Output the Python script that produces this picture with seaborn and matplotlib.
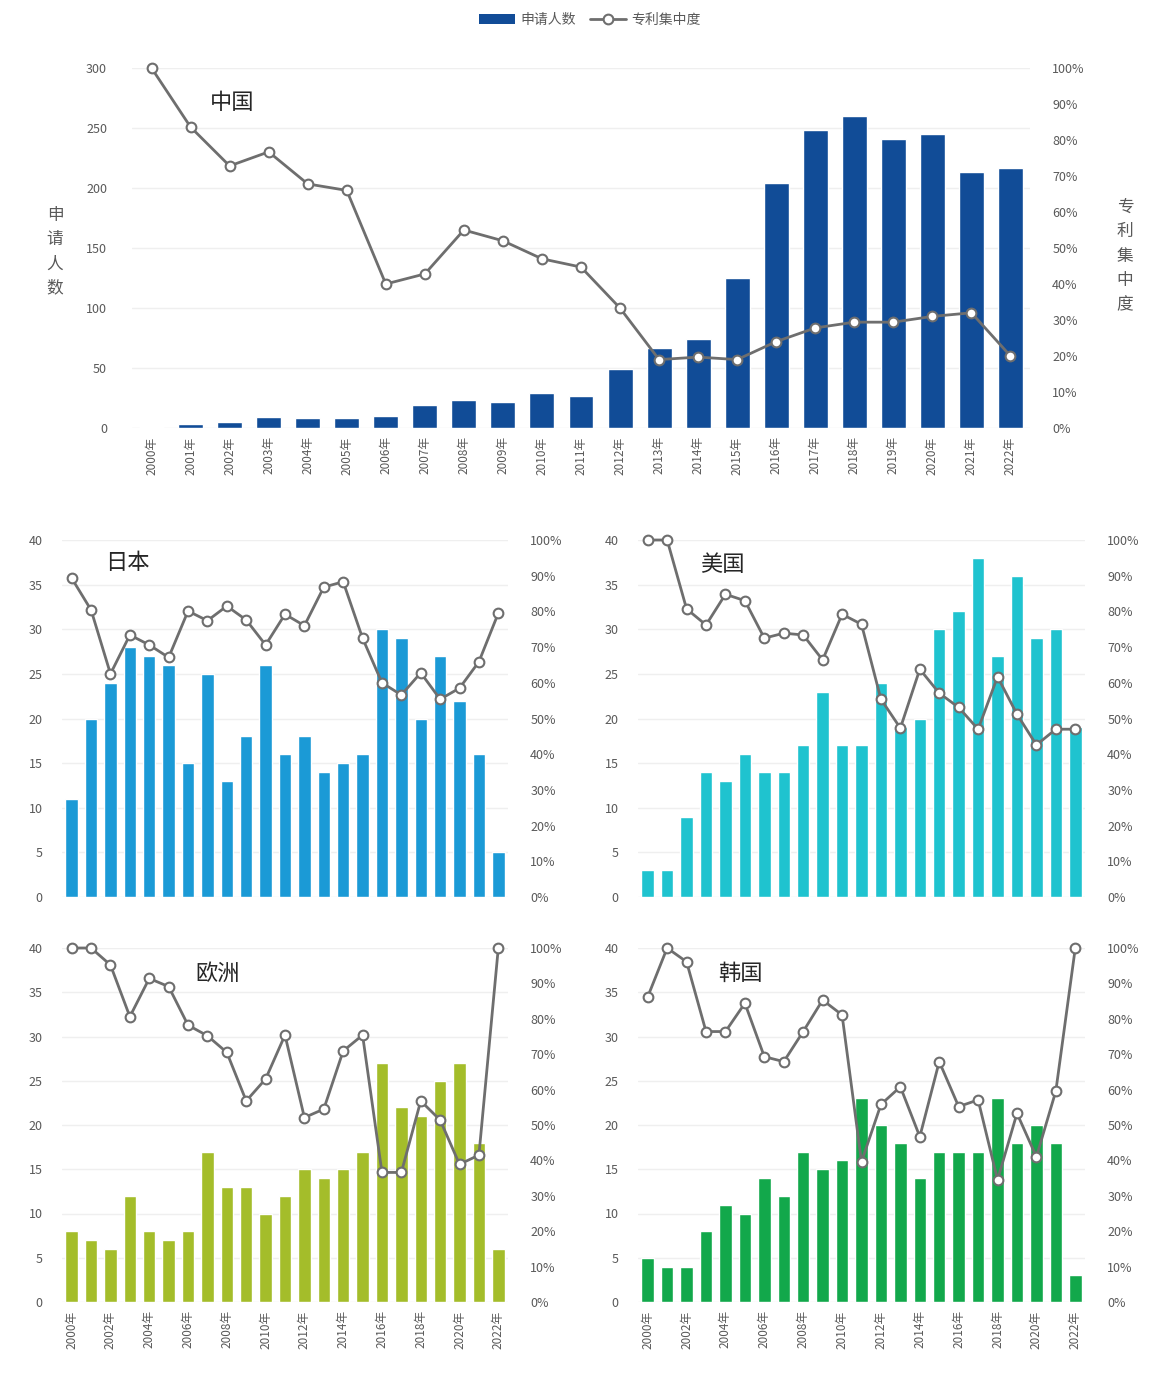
import numpy as np
import pandas as pd
import matplotlib
matplotlib.use("Agg")
import matplotlib.pyplot as plt
import seaborn as sns
from matplotlib.patches import Patch
from matplotlib.lines import Line2D
from matplotlib.ticker import PercentFormatter, MultipleLocator

years = ["2000年", "2001年", "2002年", "2003年", "2004年", "2005年", "2006年", "2007年",
         "2008年", "2009年", "2010年", "2011年", "2012年", "2013年", "2014年", "2015年",
         "2016年", "2017年", "2018年", "2019年", "2020年", "2021年", "2022年"]

cn_count = [1, 3, 5, 9, 8, 8, 10, 19, 23, 22, 29, 27, 49, 67, 74, 125, 204, 248, 260, 241, 245, 213, 217]
cn_conc = [100, 83.6, 72.8, 76.7, 67.8, 66, 40, 42.8, 55, 52, 47, 44.7, 33.3, 19, 19.7, 19, 24, 27.8, 29.4, 29.4, 31, 32, 20]

jp_count = [11, 20, 24, 28, 27, 26, 15, 25, 13, 18, 26, 16, 18, 14, 15, 16, 30, 29, 20, 27, 22, 16, 5]
jp_conc = [89.3, 80.4, 62.5, 73.4, 70.6, 67.1, 80.1, 77.4, 81.5, 77.6, 70.6, 79.2, 76.0, 86.8, 88.3, 72.5, 60.0, 56.6, 62.8, 55.4, 58.5, 65.9, 79.5]

us_count = [3, 3, 9, 14, 13, 16, 14, 14, 17, 23, 17, 17, 24, 19, 20, 30, 32, 38, 27, 36, 29, 30, 19]
us_conc = [100, 100, 80.7, 76.2, 84.8, 83.0, 72.5, 73.9, 73.4, 66.4, 79.2, 76.4, 55.4, 47.3, 63.8, 57.1, 53.1, 47.0, 61.7, 51.2, 42.6, 47, 47]

eu_count = [8, 7, 6, 12, 8, 7, 8, 17, 13, 13, 10, 12, 15, 14, 15, 17, 27, 22, 21, 25, 27, 18, 6]
eu_conc = [100, 100, 95.2, 80.6, 91.4, 89.1, 78.2, 75.2, 70.5, 56.8, 63.0, 75.4, 52.1, 54.5, 70.9, 75.4, 36.6, 36.6, 56.8, 51.4, 38.9, 41.5, 100]

kr_count = [5, 4, 4, 8, 11, 10, 14, 12, 17, 15, 16, 23, 20, 18, 14, 17, 17, 17, 23, 18, 20, 18, 3]
kr_conc = [86.2, 100, 96.1, 76.4, 76.4, 84.4, 69.3, 67.9, 76.4, 85.3, 81.1, 39.6, 55.8, 60.8, 46.7, 67.9, 55.2, 57.1, 34.5, 53.3, 41.0, 59.6, 100]

legend_labels = ["申请人数", "专利集中度"]

sns.set_theme(style="white")
plt.rcParams["font.family"] = ["Noto Sans CJK SC", "DejaVu Sans"]

TXT = "#595959"
LINE = "#6E6E6E"
W, H = 1165, 1387
fig = plt.figure(figsize=(W / 100, H / 100), dpi=100)


def rect(l, r, t, b):
    return [l / W, 1 - b / H, (r - l) / W, (b - t) / H]


def panel(box, counts, conc, color, title, txy, ymax, ystep, xmode, lpad, rpad, tsize=16):
    ax = fig.add_axes(box)
    df = pd.DataFrame({"year": years, "count": counts,
                       "conc": np.array(conc) / 100.0, "pos": np.arange(len(years))})
    ax.yaxis.grid(True, color="#EFEFEF", lw=1)
    ax.set_axisbelow(True)
    sns.barplot(data=df, x="year", y="count", color=color, saturation=1,
                width=0.64, ax=ax, zorder=2)
    ax.set_xlim(-0.5, len(years) - 0.5)
    ax.set_ylim(0, ymax)
    ax.yaxis.set_major_locator(MultipleLocator(ystep))
    ax.set_xlabel("")
    ax.set_ylabel("")
    for s in ax.spines.values():
        s.set_visible(False)
    ax.tick_params(axis="y", length=0, labelsize=9, labelcolor=TXT, pad=lpad)
    if xmode == "all":
        ax.set_xticks(range(len(years)))
        ax.set_xticklabels(years, rotation=90)
        ax.tick_params(axis="x", length=0, labelsize=8.5, labelcolor=TXT, pad=6)
    elif xmode == "half":
        ax.set_xticks(range(0, len(years), 2))
        ax.set_xticklabels(years[::2], rotation=90)
        ax.tick_params(axis="x", length=0, labelsize=8.5, labelcolor=TXT, pad=6)
    else:
        ax.set_xticks([])

    ax2 = ax.twinx()
    sns.lineplot(data=df, x="pos", y="conc", ax=ax2, color=LINE, lw=2,
                 marker="o", markersize=7, markerfacecolor="white",
                 markeredgecolor=LINE, markeredgewidth=1.5, zorder=3, clip_on=False)
    ax2.set_ylim(0, 1)
    ax2.yaxis.set_major_locator(MultipleLocator(0.1))
    ax2.yaxis.set_major_formatter(PercentFormatter(1.0, decimals=0))
    ax2.set_xlabel("")
    ax2.set_ylabel("")
    for s in ax2.spines.values():
        s.set_visible(False)
    ax2.tick_params(axis="y", length=0, labelsize=9, labelcolor=TXT, pad=rpad)
    ax2.grid(False)
    ax2.text(txy[0], txy[1], title, transform=ax2.transAxes, ha="center",
             va="center", fontsize=tsize, color="#262626", zorder=5)
    return ax, ax2


panel(rect(132, 1030, 68, 428), cn_count, cn_conc, "#114C97", "中国", (0.111, 0.903),
      300, 50, "all", 18, 16)
panel(rect(62, 508, 540, 897), jp_count, jp_conc, "#1B9AD6", "日本", (0.146, 0.938),
      40, 5, "none", 14, 16)
panel(rect(638, 1085, 540, 897), us_count, us_conc, "#1FC3CF", "美国", (0.188, 0.93),
      40, 5, "none", 14, 16)
panel(rect(62, 508, 948, 1302), eu_count, eu_conc, "#A4BD2A", "欧洲", (0.35, 0.929),
      40, 5, "half", 14, 16)
panel(rect(638, 1085, 948, 1302), kr_count, kr_conc, "#12A84B", "韩国", (0.228, 0.929),
      40, 5, "half", 14, 16)

fig.text(55 / W, 1 - 252 / H, "\n".join(legend_labels[0]), ha="center", va="center",
         fontsize=12, color=TXT, linespacing=1.55)
fig.text(1125 / W, 1 - 256 / H, "\n".join(legend_labels[1]), ha="center", va="center",
         fontsize=12, color=TXT, linespacing=1.55)

handles = [Patch(facecolor="#114C97", edgecolor="none"),
           Line2D([0], [0], color=LINE, lw=2, marker="o", markersize=7,
                  markerfacecolor="white", markeredgecolor=LINE, markeredgewidth=1.5)]
fig.legend(handles, legend_labels, loc="center", bbox_to_anchor=(590 / W, 1 - 20 / H),
           ncol=2, frameon=False, fontsize=10, labelcolor=TXT, handlelength=2.6,
           handleheight=0.8, columnspacing=1.0, handletextpad=0.4)

fig.savefig("out.png", dpi=100, facecolor="white")
